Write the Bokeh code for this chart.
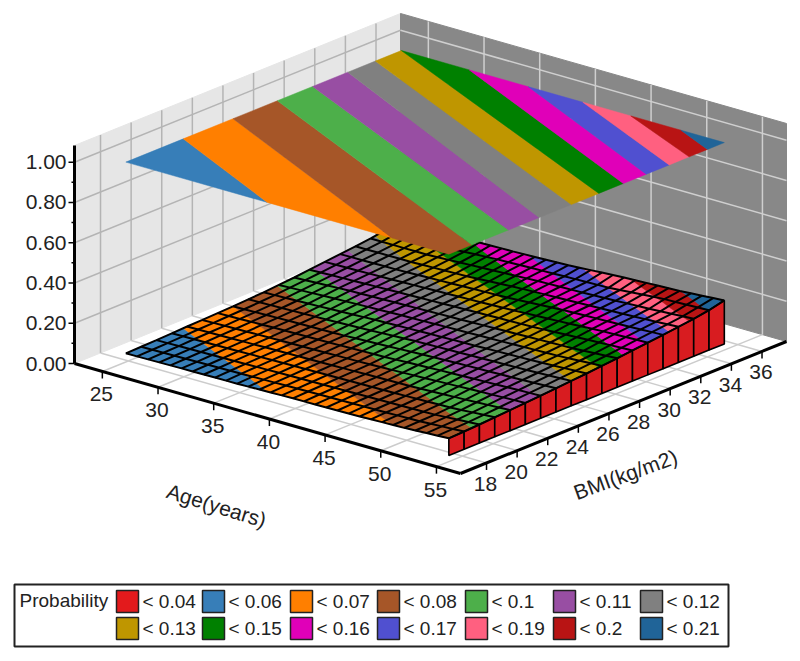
from bokeh.plotting import figure
from bokeh.embed import file_html
from bokeh.resources import INLINE
from bokeh.models import Range1d
from bokeh.core.properties import value
import numpy as np

# ---------- data ----------
AGE_TICKS = [25, 30, 35, 40, 45, 50, 55]
BMI_TICKS = [18, 20, 22, 24, 26, 28, 30, 32, 34, 36]
Z_TICKS = [0.0, 0.2, 0.4, 0.6, 0.8, 1.0]
Z_LABELS = ["0.00", "0.20", "0.40", "0.60", "0.80", "1.00"]
AGE_TITLE = "Age(years)"
BMI_TITLE = "BMI(kg/m2)"
LEGEND_TITLE = "Probability"
LEGEND_LABELS = ["< 0.04", "< 0.06", "< 0.07", "< 0.08", "< 0.1", "< 0.11", "< 0.12",
                 "< 0.13", "< 0.15", "< 0.16", "< 0.17", "< 0.19", "< 0.2", "< 0.21"]
LEGEND_COLORS = ["#e31a1c", "#377eb8", "#ff7f00", "#a65628", "#4daf4a", "#984ea3", "#808080",
                 "#bf9600", "#008000", "#e000b8", "#5050d0", "#ff6080", "#b81414", "#206498"]

GRID_BMI = [18, 19, 20, 21, 22, 23, 24, 25, 26, 27, 28, 29, 30, 31, 32, 33, 34, 35, 36]
GRID_AGE = [25, 26, 27, 28, 29, 30, 31, 32, 33, 34, 35, 36, 37, 38, 39, 40, 41, 42, 43, 44,
            45, 46, 47, 48, 49, 50, 51, 52, 53, 54]
Z_ROW_AGE = [25, 30, 35, 40, 45, 50, 54]
Z_25 = [.050, .052, .054, .057, .060, .062, .065, .068, .072, .076, .082, .088, .096, .104, .112, .120, .128, .140, .150]
Z_30 = [.054, .056, .059, .062, .065, .068, .072, .075, .079, .085, .093, .101, .105, .110, .115, .121, .127, .135, .155]
Z_35 = [.057, .061, .064, .067, .070, .073, .077, .080, .088, .097, .103, .108, .113, .118, .124, .129, .140, .151, .160]
Z_40 = [.063, .066, .069, .072, .075, .078, .084, .092, .101, .105, .110, .115, .121, .126, .133, .145, .153, .160, .170]
Z_45 = [.066, .070, .073, .076, .080, .088, .096, .103, .108, .112, .117, .123, .128, .138, .150, .155, .161, .168, .188]
Z_50 = [.074, .076, .078, .083, .091, .099, .105, .110, .115, .120, .125, .131, .142, .153, .159, .165, .173, .190, .200]
Z_54 = [.085, .088, .092, .097, .102, .107, .112, .118, .124, .130, .137, .144, .152, .160, .168, .177, .186, .198, .216]

# where the colour boundaries of the 13 bands meet the edges of the surface
BOUND_A1 = [25, 25, 25, 25, 25, 25, 25, 31.1, 36.4, 41.3, 45.6, 50.1]
BOUND_B1 = [21.75, 25, 27.9, 30.2, 32.5, 34.3, 36, 36, 36, 36, 36, 36]
BOUND_A2 = [37.7, 48.9, 54, 54, 54, 54, 54, 54, 54, 54, 54, 54]
BOUND_B2 = [18, 18, 19.5, 21.9, 23.9, 26, 27.8, 29.4, 30.9, 32.4, 33.7, 34.9]
TOP_LEVEL = 1.0

# ---------- layout ----------
AGE_MIN, AGE_MAX = 22.5, 57.16
BMI_MIN, BMI_MAX = 16.3, 37.6
Z_MAX = 1.083
X0, Y0 = 74.0, 363.0
AX, AY = 386.0 / (AGE_MAX - AGE_MIN), 110.0 / (AGE_MAX - AGE_MIN)
BX, BY = 326.0 / (BMI_MAX - BMI_MIN), 132.0 / (BMI_MAX - BMI_MIN)
ZS = 201.3
SURF_DX, SURF_DY = -2.5, 2.5   # the surface sits slightly off the axis registration
FONT = value("Liberation Sans")
TEXT = "#222222"
WALL_RED = "#d81c20"


def proj(a, b, z=0.0):
    return (X0 + (a - AGE_MIN) * AX + (b - BMI_MIN) * BX,
            Y0 + (a - AGE_MIN) * AY - (b - BMI_MIN) * BY - z * ZS)


def surf(a, b, z=0.0):
    q = proj(a, b, z)
    return (q[0] + SURF_DX, q[1] + SURF_DY)


Z_ROWS = np.array([Z_25, Z_30, Z_35, Z_40, Z_45, Z_50, Z_54])


def height(a, b):
    col = np.array([np.interp(a, Z_ROW_AGE, Z_ROWS[:, j]) for j in range(len(GRID_BMI))])
    return float(np.interp(b, GRID_BMI, col))


def side(i, pt):
    ax, bx = BOUND_A1[i], BOUND_B1[i]
    ux, uy = BOUND_A2[i] - ax, BOUND_B2[i] - bx
    s = ux * (pt[1] - bx) - uy * (pt[0] - ax)
    ref = ux * (18 - bx) - uy * (25 - ax)
    return s if ref > 0 else -s   # > 0: on the low-probability side


def clip(poly, i, keep_low):
    out = []
    sign = 1 if keep_low else -1
    n = len(poly)
    for k in range(n):
        p, q = poly[k], poly[(k + 1) % n]
        sp, sq = sign * side(i, p), sign * side(i, q)
        if sp >= 0:
            out.append(p)
        if (sp >= 0) != (sq >= 0):
            t = sp / (sp - sq)
            out.append((p[0] + t * (q[0] - p[0]), p[1] + t * (q[1] - p[1])))
    return out


def bands_of(quad):
    res = []
    nb = len(BOUND_A1)
    for k in range(nb + 1):
        poly = quad
        if k > 0:
            poly = clip(poly, k - 1, False)
        if k < nb and len(poly) >= 3:
            poly = clip(poly, k, True)
        if len(poly) >= 3:
            res.append((poly, LEGEND_COLORS[k + 1]))
    return res


p = figure(width=792, height=650, x_range=Range1d(0, 792), y_range=Range1d(650, 0),
           output_backend="svg", toolbar_location=None, min_border=0,
           x_axis_type=None, y_axis_type=None, outline_line_color=None)
p.grid.visible = False


def seg(lst, a, b):
    lst[0].append([a[0], b[0]])
    lst[1].append([a[1], b[1]])


# walls
c1, c2, c3 = (AGE_MIN, BMI_MIN), (AGE_MIN, BMI_MAX), (AGE_MAX, BMI_MAX)
pts = [proj(*c1), proj(*c2), proj(*c2, Z_MAX), proj(*c1, Z_MAX)]
p.patch([q[0] for q in pts], [q[1] for q in pts], fill_color="#e6e6e6", line_color="#e6e6e6")
pts = [proj(*c2), proj(*c3), proj(*c3, Z_MAX), proj(*c2, Z_MAX)]
p.patch([q[0] for q in pts], [q[1] for q in pts], fill_color="#888888", line_color="#888888")

left, right, floor = ([], []), ([], []), ([], [])
for b in BMI_TICKS:
    seg(left, proj(AGE_MIN, b), proj(AGE_MIN, b, Z_MAX))
    seg(floor, proj(AGE_MIN, b), proj(AGE_MAX, b))
for a in AGE_TICKS:
    seg(right, proj(a, BMI_MAX), proj(a, BMI_MAX, Z_MAX))
    seg(floor, proj(a, BMI_MIN), proj(a, BMI_MAX))
for z in Z_TICKS[1:]:
    seg(left, proj(AGE_MIN, BMI_MIN, z), proj(AGE_MIN, BMI_MAX, z))
    seg(right, proj(AGE_MIN, BMI_MAX, z), proj(AGE_MAX, BMI_MAX, z))
p.multi_line(left[0], left[1], line_color="#b4b4b4", line_width=1.5)
p.multi_line(right[0], right[1], line_color="#cfcfcf", line_width=1.5)
p.multi_line(floor[0], floor[1], line_color="#cccccc", line_width=1.5)

# axes
axis = ([], [])
seg(axis, proj(AGE_MIN, BMI_MIN, Z_MAX), proj(AGE_MIN, BMI_MIN))
seg(axis, proj(AGE_MIN, BMI_MIN), proj(AGE_MAX, BMI_MIN))
seg(axis, proj(AGE_MAX, BMI_MIN), proj(AGE_MAX, BMI_MAX))
p.multi_line(axis[0], axis[1], line_color="#000000", line_width=3)
ticks = ([], [])
for z in Z_TICKS:
    q = proj(AGE_MIN, BMI_MIN, z)
    seg(ticks, (q[0] - 6, q[1]), q)
for i in range(len(Z_TICKS) - 1):
    q = proj(AGE_MIN, BMI_MIN, (Z_TICKS[i] + Z_TICKS[i + 1]) / 2)
    seg(ticks, (q[0] - 3, q[1]), q)
for a in AGE_TICKS:
    q = proj(a, BMI_MIN)
    seg(ticks, q, (q[0], q[1] + 7))
for b in BMI_TICKS:
    q = proj(AGE_MAX, b)
    seg(ticks, q, (q[0], q[1] + 7))
p.multi_line(ticks[0], ticks[1], line_color="#000000", line_width=1.5)

# lower surface, cell by cell
xs, ys, cols = [], [], []
for i in range(len(GRID_AGE) - 1):
    for j in range(len(GRID_BMI) - 1):
        quad = [(GRID_AGE[i], GRID_BMI[j]), (GRID_AGE[i + 1], GRID_BMI[j]),
                (GRID_AGE[i + 1], GRID_BMI[j + 1]), (GRID_AGE[i], GRID_BMI[j + 1])]
        for poly, col in bands_of(quad):
            pr = [surf(a, b, height(a, b)) for a, b in poly]
            xs.append([q[0] for q in pr])
            ys.append([q[1] for q in pr])
            cols.append(col)
p.patches(xs, ys, fill_color=cols, line_color=cols, line_width=0.5)

# red front side of the surface
A_END = GRID_AGE[-1]
wx, wy = [], []
for j in range(len(GRID_BMI) - 1):
    b0, b1 = GRID_BMI[j], GRID_BMI[j + 1]
    pr = [surf(A_END, b0), surf(A_END, b1), surf(A_END, b1, height(A_END, b1)), surf(A_END, b0, height(A_END, b0))]
    wx.append([q[0] for q in pr])
    wy.append([q[1] for q in pr])
p.patches(wx, wy, fill_color=WALL_RED, line_color="#000000", line_width=1.6)

# mesh
mx, my = [], []
for a in GRID_AGE:
    pr = [surf(a, b, height(a, b)) for b in GRID_BMI]
    mx.append([q[0] for q in pr])
    my.append([q[1] for q in pr])
for b in GRID_BMI:
    pr = [surf(a, b, height(a, b)) for a in GRID_AGE]
    mx.append([q[0] for q in pr])
    my.append([q[1] for q in pr])
p.multi_line(mx, my, line_color="#000000", line_width=2)

# upper projection of the same bands
rect = [(GRID_AGE[0], GRID_BMI[0]), (GRID_AGE[-1], GRID_BMI[0]),
        (GRID_AGE[-1], GRID_BMI[-1]), (GRID_AGE[0], GRID_BMI[-1])]
xs, ys, cols = [], [], []
for poly, col in bands_of(rect):
    pr = [surf(a, b, TOP_LEVEL) for a, b in poly]
    xs.append([q[0] for q in pr])
    ys.append([q[1] for q in pr])
    cols.append(col)
p.patches(xs, ys, fill_color=cols, line_color=cols, line_width=0.5)


def label(x, y, s, align="center", angle=0.0, size="21px"):
    p.text([x], [y], text=[s], text_font=FONT, text_font_size=size, text_color=TEXT,
           text_align=align, text_baseline="middle", angle=angle)


for z, s in zip(Z_TICKS, Z_LABELS):
    q = proj(AGE_MIN, BMI_MIN, z)
    label(q[0] - 8, q[1], s, align="right")
for a in AGE_TICKS:
    q = proj(a, BMI_MIN)
    label(q[0] - 1, q[1] + 23, str(a))
for b in BMI_TICKS:
    q = proj(AGE_MAX, b)
    label(q[0] - 1, q[1] + 21, str(b))
label(216, 505, AGE_TITLE, angle=-0.30, size="21px")
label(625, 474, BMI_TITLE, angle=0.35, size="21px")

# legend
p.quad(left=[14], right=[728], top=[584], bottom=[646], fill_color="#ffffff", line_color="#222222", line_width=2)
label(19, 600, LEGEND_TITLE, align="left", size="19px")
COL_X = [116, 202, 290, 377, 465, 553, 640]
ROW_Y = [601, 628]
for i, (s, c) in enumerate(zip(LEGEND_LABELS, LEGEND_COLORS)):
    x, y = COL_X[i % 7], ROW_Y[i // 7]
    p.quad(left=[x], right=[x + 22], top=[y - 11], bottom=[y + 11], fill_color=c, line_color="#222222", line_width=1.5)
    label(x + 26, y, s, align="left", size="19px")

open("out.html", "w").write(file_html(p, INLINE))
